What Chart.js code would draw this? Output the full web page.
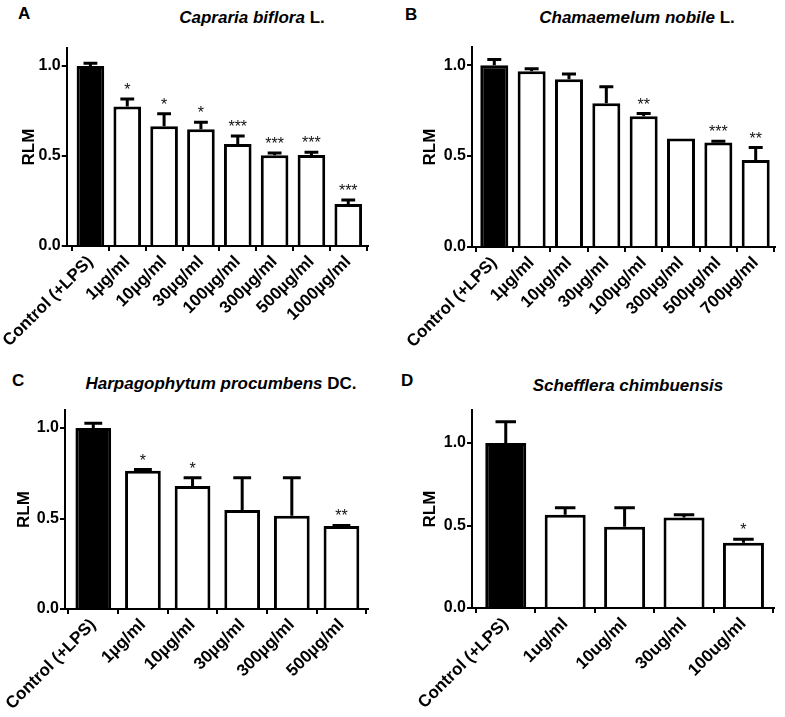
<!DOCTYPE html>
<html>
<head>
<meta charset="utf-8">
<script src="https://cdn.jsdelivr.net/npm/chart.js@4.4.1/dist/chart.umd.min.js"></script>
<style>
    html, body { margin: 0; padding: 0; background: #fff; }
    #wrap { position: relative; width: 785px; height: 717px; overflow: hidden;
            font-family: 'Liberation Sans', Arial, sans-serif; color: #000; }
    canvas { position: absolute; }
    .lab { position: absolute; font-weight: bold; font-size: 17px; line-height: 1; }
    .ttl { position: absolute; font-weight: bold; font-size: 17px; line-height: 1;
           white-space: nowrap; transform: translateX(-50%); }
</style>
</head>
<body>
<div id="wrap">
    <div class="lab" style="left:18px;top:5px">A</div>
    <div class="ttl" style="left:252px;top:9px"><i>Capraria biflora</i> L.</div>
    <div class="lab" style="left:405px;top:6px">B</div>
    <div class="ttl" style="left:637px;top:9px"><i>Chamaemelum nobile</i> L.</div>
    <div class="lab" style="left:12px;top:372px">C</div>
    <div class="ttl" style="left:221px;top:375px"><i>Harpagophytum procumbens</i> DC.</div>
    <div class="lab" style="left:401px;top:372px">D</div>
    <div class="ttl" style="left:628px;top:377px"><i>Schefflera chimbuensis</i></div>

    <canvas id="chartA" width="390" height="330" style="left:0;top:30px"></canvas>
    <canvas id="chartB" width="395" height="330" style="left:390px;top:30px"></canvas>
    <canvas id="chartC" width="390" height="325" style="left:0;top:392px"></canvas>
    <canvas id="chartD" width="395" height="325" style="left:390px;top:392px"></canvas>
</div>

<script>
// --- data (RLM, mean and upper error) ---
const labelsA = ['Control (+LPS)', '1µg/ml', '10µg/ml', '30µg/ml', '100µg/ml', '300µg/ml', '500µg/ml', '1000µg/ml'];
const meansA  = [1.0, 0.775, 0.665, 0.648, 0.566, 0.504, 0.505, 0.233];
const errorsA = [0.015, 0.042, 0.07, 0.039, 0.045, 0.012, 0.016, 0.022];
const starsA  = ['', '*', '*', '*', '***', '***', '***', '***'];

const labelsB = ['Control (+LPS)', '1µg/ml', '10µg/ml', '30µg/ml', '100µg/ml', '300µg/ml', '500µg/ml', '700µg/ml'];
const meansB  = [1.0, 0.967, 0.923, 0.791, 0.719, 0.597, 0.575, 0.479];
const errorsB = [0.031, 0.013, 0.029, 0.09, 0.015, 0, 0.007, 0.068];
const starsB  = ['', '', '', '', '**', '', '***', '**'];

const labelsC = ['Control (+LPS)', '1µg/ml', '10µg/ml', '30µg/ml', '300µg/ml', '500µg/ml'];
const meansC  = [1.0, 0.764, 0.68, 0.547, 0.515, 0.459];
const errorsC = [0.027, 0.007, 0.045, 0.178, 0.21, 0.003];
const starsC  = ['', '*', '*', '', '', '**'];

const labelsD = ['Control (+LPS)', '1ug/ml', '10ug/ml', '30ug/ml', '100ug/ml'];
const meansD  = [1.0, 0.565, 0.493, 0.549, 0.396];
const errorsD = [0.129, 0.042, 0.114, 0.016, 0.02];
const starsD  = ['', '', '', '', '*'];

const yTicks = [0, 0.5, 1.0];

const FONT = "'Liberation Sans', Arial, sans-serif";
const INK  = '#000';

// error bars (upper only) + significance stars, drawn through the chart scales
function errorBars(means, errors, stars) {
    return {
        id: 'errorBars',
        afterDatasetsDraw(chart) {
            const { ctx, scales: { y } } = chart;
            const bars = chart.getDatasetMeta(0).data;
            ctx.save();
            ctx.strokeStyle = INK;
            ctx.fillStyle = '#111';
            ctx.lineWidth = 3;
            ctx.font = `16px ${FONT}`;
            ctx.textAlign = 'center';
            ctx.textBaseline = 'alphabetic';
            bars.forEach((bar, i) => {
                const top = y.getPixelForValue(means[i] + errors[i]);
                if (errors[i] > 0) {
                    const half = bar.width * 0.25;
                    ctx.beginPath();
                    ctx.moveTo(bar.x, bar.y);
                    ctx.lineTo(bar.x, top);
                    ctx.moveTo(bar.x - half, top);
                    ctx.lineTo(bar.x + half, top);
                    ctx.stroke();
                }
                if (stars[i]) ctx.fillText(stars[i], bar.x, top - 4);
            });
            ctx.restore();
        },
    };
}

function makePanel(id, labels, means, errors, stars, opt) {
    new Chart(document.getElementById(id), {
        type: 'bar',
        data: {
            datasets: [{
                data: means.map((v, i) => ({ x: i, y: v })),
                backgroundColor: means.map((_, i) => i === 0 ? INK : '#fff'),
                borderColor: INK,
                borderWidth: 3,
                barPercentage: opt.bar,
                categoryPercentage: 1,
            }],
        },
        options: {
            responsive: false,
            animation: false,
            layout: { padding: { top: opt.top, right: opt.right, left: 0, bottom: 0 } },
            plugins: { legend: { display: false }, tooltip: { enabled: false } },
            scales: {
                x: {
                    type: 'linear',
                    min: opt.xmin,
                    max: opt.xmax,
                    offset: false,
                    grid:   { drawOnChartArea: false, drawTicks: true, tickLength: 5, color: INK, lineWidth: 2 },
                    border: { color: INK, width: 2 },
                    ticks: {
                        autoSkip: false,
                        minRotation: 45,
                        maxRotation: 45,
                        padding: 1,
                        color: INK,
                        font: { family: FONT, size: 17, weight: 'bold' },
                        callback: v => labels[v] ?? '',
                    },
                    afterBuildTicks: s => { s.ticks = labels.map((_, i) => ({ value: i })); },
                    afterFit: s => { s.height = opt.xh; },
                },
                y: {
                    min: 0,
                    max: opt.ymax,
                    grid:   { drawOnChartArea: false, drawTicks: true, tickLength: 5, color: INK, lineWidth: 2 },
                    border: { color: INK, width: 2 },
                    ticks: {
                        padding: 1,
                        color: INK,
                        font: { family: FONT, size: 16, weight: 'bold' },
                        callback: v => v.toFixed(1),
                    },
                    afterBuildTicks: s => { s.ticks = yTicks.map(v => ({ value: v })); },
                    title: {
                        display: true,
                        text: 'RLM',
                        color: INK,
                        font: { family: FONT, size: 17, weight: 'bold' },
                        padding: { top: opt.tpad, bottom: 0 },
                    },
                    afterFit: s => { s.width = opt.yw; },
                },
            },
        },
        plugins: [errorBars(means, errors, stars)],
    });
}

makePanel('chartA', labelsA, meansA, errorsA, starsA,
    { top: 18, right: 22, xh: 114, yw: 63, tpad: 15, ymax: 1.1, xmin: -0.643, xmax: 7.536, bar: 0.75 });
makePanel('chartB', labelsB, meansB, errorsB, starsB,
    { top: 17, right: 10, xh: 113, yw: 82, tpad: 30, ymax: 1.1, xmin: -0.597, xmax: 7.517, bar: 0.75 });
makePanel('chartC', labelsC, meansC, errorsC, starsC,
    { top: 18, right: 22, xh: 108, yw: 65, tpad: 14, ymax: 1.1, xmin: -0.57, xmax: 5.535, bar: 0.72 });
makePanel('chartD', labelsD, meansD, errorsD, starsD,
    { top: 18, right: 11, xh: 109, yw: 82, tpad: 30, ymax: 1.2, xmin: -0.568, xmax: 4.514, bar: 0.69 });
</script>
</body>
</html>
